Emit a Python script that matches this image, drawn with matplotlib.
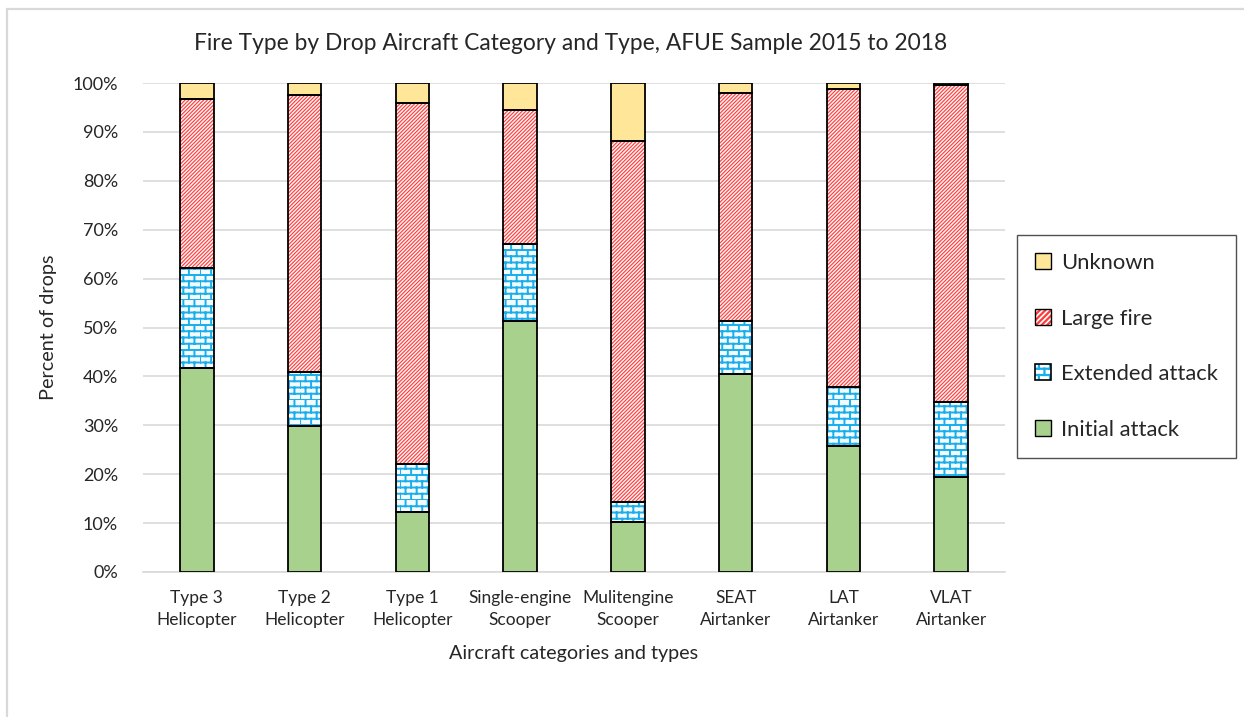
import warnings
import numpy as np
import matplotlib
matplotlib.use("Agg")
import matplotlib.pyplot as plt
from matplotlib import hatch as mhatch
from matplotlib.path import Path
from matplotlib.patches import Patch, Rectangle
from matplotlib.legend_handler import HandlerTuple

warnings.filterwarnings("ignore")

# ---------------- data ----------------
categories = ["Type 3\nHelicopter", "Type 2\nHelicopter", "Type 1\nHelicopter",
              "Single-engine\nScooper", "Mulitengine\nScooper", "SEAT\nAirtanker",
              "LAT\nAirtanker", "VLAT\nAirtanker"]
initial_attack = [41.7, 29.9, 12.3, 51.3, 10.2, 40.5, 25.8, 19.4]
extended_attack = [20.5, 11.0, 9.8, 15.8, 4.1, 10.8, 12.0, 15.4]
large_fire = [34.5, 56.6, 73.8, 27.4, 73.8, 46.7, 61.0, 64.8]
unknown = [3.3, 2.5, 4.1, 5.5, 11.9, 2.0, 1.2, 0.4]
yticks = [0, 10, 20, 30, 40, 50, 60, 70, 80, 90, 100]
title = "Fire Type by Drop Aircraft Category and Type, AFUE Sample 2015 to 2018"


# ---------------- custom brick hatch ----------------
class BrickHatch(mhatch.HatchPatternBase):
    def __init__(self, hatch, density):
        n = hatch.count('b')
        self.rows = 16 * n
        self.cols = 9 * n
        self.num_vertices = (self.rows * 2 + self.rows * self.cols * 2) if n else 0

    def set_vertices_and_codes(self, vertices, codes):
        h = 1.0 / self.rows
        w = 1.0 / self.cols
        i = 0
        for r in range(self.rows):
            y = r * h
            vertices[i] = (0.0, y); codes[i] = Path.MOVETO; i += 1
            vertices[i] = (1.0, y); codes[i] = Path.LINETO; i += 1
        for r in range(self.rows):
            y0 = r * h
            off = (w / 2.0) if r % 2 else 0.0
            for c in range(self.cols):
                xx = (c * w + off) % 1.0
                vertices[i] = (xx, y0); codes[i] = Path.MOVETO; i += 1
                vertices[i] = (xx, y0 + h); codes[i] = Path.LINETO; i += 1


mhatch._hatch_types.append(BrickHatch)

plt.rcParams['font.family'] = ['Lato', 'DejaVu Sans']
text_color = '#262626'

fig = plt.figure(figsize=(12.44, 7.17), dpi=100)
ax = fig.add_axes([143 / 1244, 1 - 572 / 717, (1005 - 143) / 1244, (572 - 83) / 717])

x = np.arange(len(categories))
width = 0.31
ia = np.array(initial_attack)
ea = np.array(extended_attack)
lf = np.array(large_fire)
un = np.array(unknown)

col_ia = '#A9D18E'
col_un = '#FFE699'
col_lf = '#FF3A3A'
col_ea = '#1AAEEB'
lf_hatch = '/' * 9
ea_hatch = 'b'

# fills
ax.bar(x, ia, width, color=col_ia, edgecolor=col_ia, linewidth=0, zorder=2)
plt.rcParams['hatch.linewidth'] = 1.4
ax.bar(x, ea, width, bottom=ia, color='#F4FBFF', edgecolor=col_ea, hatch=ea_hatch,
       linewidth=0, zorder=2)
plt.rcParams['hatch.linewidth'] = 0.8
ax.bar(x, lf, width, bottom=ia + ea, color='#FFF2F2', edgecolor=col_lf, hatch=lf_hatch,
       linewidth=0, zorder=2)
ax.bar(x, un, width, bottom=ia + ea + lf, color=col_un, linewidth=0, zorder=2)
# outlines
for vals, bot in [(ia, 0), (ea, ia), (lf, ia + ea), (un, ia + ea + lf)]:
    ax.bar(x, vals, width, bottom=bot, fill=False, edgecolor='black',
           linewidth=1.3, zorder=3)

ax.set_xlim(-0.5, len(categories) - 0.5)
ax.set_ylim(0, 100)
ax.set_yticks(yticks)
ax.set_yticklabels([f"{v}%" for v in yticks])
ax.set_xticks(x)
ax.set_xticklabels(categories, linespacing=1.45)
ax.tick_params(axis='both', length=0, colors=text_color)
ax.tick_params(axis='x', labelsize=12.5, pad=13)
ax.tick_params(axis='y', labelsize=13, pad=18)
ax.yaxis.grid(True, color='#D9D9D9', linewidth=1.2, zorder=0)
ax.set_axisbelow(True)
for s in ['left', 'right', 'top']:
    ax.spines[s].set_visible(False)
ax.spines['bottom'].set_color('#D9D9D9')
ax.spines['bottom'].set_linewidth(1.2)

ax.set_ylabel("Percent of drops", fontsize=14.3, color=text_color, labelpad=11)
ax.set_xlabel("Aircraft categories and types", fontsize=14.2, color=text_color, labelpad=12)
fig.text(571 / 1244, 1 - 44 / 717, title, ha='center', va='center', fontsize=16.4,
         color=text_color)

# legend
plt.rcParams['hatch.linewidth'] = 0.8
h_lf = (Patch(facecolor='white', edgecolor=col_lf, hatch='//////', linewidth=0),
        Patch(fill=False, edgecolor='black', linewidth=1))
plt.rcParams['hatch.linewidth'] = 1.6
h_ea = (Patch(facecolor='white', edgecolor=col_ea, hatch='b', linewidth=0),
        Patch(fill=False, edgecolor='black', linewidth=1.2))
h_un = Patch(facecolor=col_un, edgecolor='black', linewidth=1)
h_ia = Patch(facecolor=col_ia, edgecolor='black', linewidth=1)
leg = fig.legend([h_un, h_lf, h_ea, h_ia],
                 ["Unknown", "Large fire", "Extended attack", "Initial attack"],
                 handler_map={tuple: HandlerTuple(ndivide=1)},
                 loc='upper left', bbox_to_anchor=(1017 / 1244, 1 - 235 / 717),
                 fontsize=15.8, labelspacing=1.62, handlelength=0.75, handleheight=0.75,
                 handletextpad=0.45, borderpad=0.82, borderaxespad=0, fancybox=False,
                 frameon=True, labelcolor=text_color)
leg.get_frame().set_edgecolor('#262626')
leg.get_frame().set_linewidth(1.0)

# outer chart border (top and left visible)
fig.patches.append(Rectangle((7.5 / 1244, -0.1), 1.2, 1 - 8.5 / 717 + 0.1,
                             transform=fig.transFigure, fill=False,
                             edgecolor='#D9D9D9', linewidth=1.6, zorder=0))

fig.savefig("out.png", dpi=100)
